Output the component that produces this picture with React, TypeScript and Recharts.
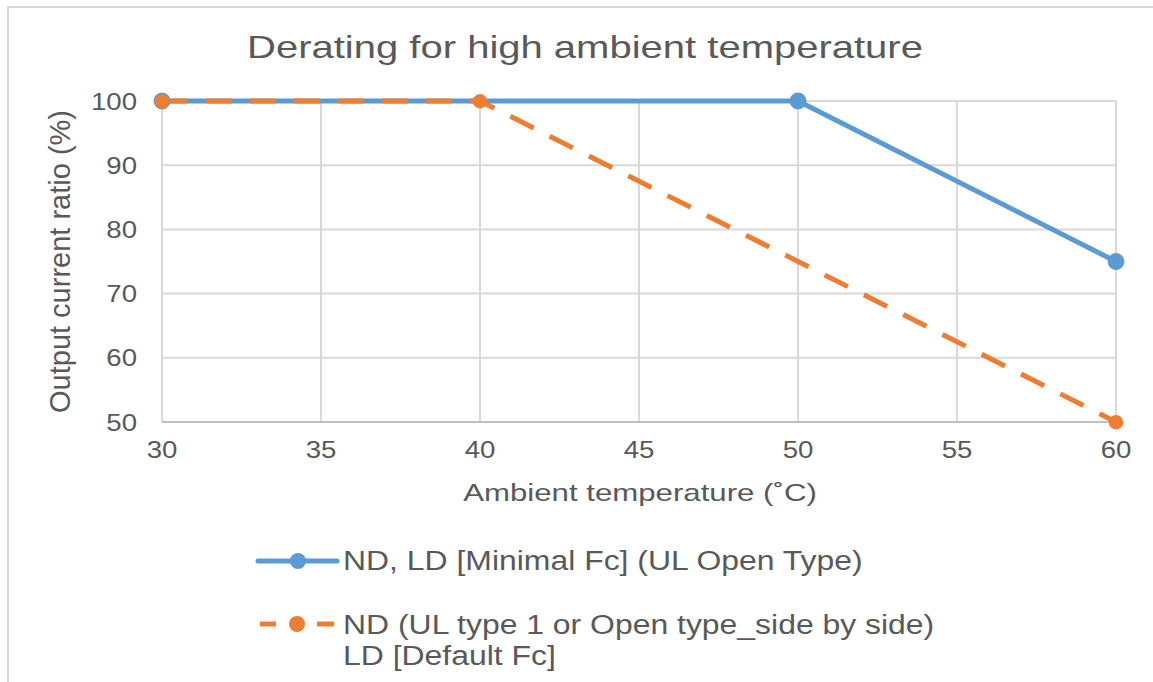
import React from 'react';
import { LineChart, Line, XAxis, YAxis, CartesianGrid, Legend } from 'recharts';

const temps = [30, 40, 50, 60];
const minimalFc = [100, null, 100, 75];
const defaultFc = [100, 100, null, 50];
const xTicks = [30, 35, 40, 45, 50, 55, 60];
const yTicks = [50, 60, 70, 80, 90, 100];

const chartTitle = 'Derating for high ambient temperature';
const xTitle = 'Ambient temperature (˚C)';
const yTitle = 'Output current ratio (%)';
const seriesNames = [
  ['ND, LD [Minimal Fc] (UL Open Type)'],
  ['ND (UL type 1 or Open type_side by side)', 'LD [Default Fc]'],
];

const data = temps.map((t, i) => ({ t, a: minimalFc[i], b: defaultFc[i] }));

const BLUE = '#5B9BD5';
const ORANGE = '#ED7D31';
const TEXT = '#595959';
const FONT = '"Liberation Sans", Arial, sans-serif';

// text drawn a bit wider than the font, as in the reference
const SText = ({ x, y, size, sx = 1, sy = 1, rotate = 0, anchor = 'start', children }: any) => (
  <text
    transform={`translate(${x},${y}) rotate(${rotate}) scale(${sx},${sy})`}
    textAnchor={anchor}
    fontSize={size}
    fontFamily={FONT}
    fill={TEXT}
  >
    {children}
  </text>
);

const XTick = ({ x, y, payload }: any) => (
  <SText x={x} y={y + 30} size={24} sx={1.15} anchor="middle">{payload.value}</SText>
);

const YTick = ({ x, y, payload }: any) => (
  <SText x={x - 19} y={y + 8.5} size={24} sx={1.15} anchor="end">{payload.value}</SText>
);

const XTitle = ({ viewBox }: any) => (
  <SText x={viewBox.x + viewBox.width / 2 + 1} y={viewBox.y + 79} size={24} sx={1.3} anchor="middle">{xTitle}</SText>
);

const YTitle = ({ viewBox }: any) => (
  <SText x={viewBox.x + 70} y={viewBox.y + viewBox.height / 2} size={25} sx={1.16} sy={1.2} rotate={-90} anchor="middle">{yTitle}</SText>
);

const LegendBox = () => (
  <svg width={760} height={152} style={{ overflow: 'visible' }}>
    <line x1={18} y1={31} x2={97} y2={31} stroke={BLUE} strokeWidth={5} strokeLinecap="round" />
    <circle cx={58} cy={31} r={8} fill={BLUE} />
    <SText x={103} y={40} size={28} sx={1.14}>{seriesNames[0][0]}</SText>
    <line x1={20} y1={94} x2={36} y2={94} stroke={ORANGE} strokeWidth={5} />
    <circle cx={57} cy={94} r={8} fill={ORANGE} />
    <line x1={77} y1={94} x2={94} y2={94} stroke={ORANGE} strokeWidth={5} />
    <SText x={103} y={104} size={28} sx={1.14}>{seriesNames[1][0]}</SText>
    <SText x={103} y={135} size={28} sx={1.14}>{seriesNames[1][1]}</SText>
  </svg>
);

export default function App() {
  return (
    <div style={{ position: 'fixed', left: 0, top: 0, width: 1153, height: 682, background: '#fff', overflow: 'hidden' }}>
      <div style={{ position: 'absolute', left: 7, top: 6, width: 1160, height: 700, borderLeft: '2px solid #D9D9D9', borderTop: '2px solid #D9D9D9' }} />
      <svg width={1153} height={90} style={{ position: 'absolute', left: 0, top: 0 }}>
        <SText x={585} y={58} size={32} sx={1.25} anchor="middle">{chartTitle}</SText>
      </svg>
      <LineChart
        width={1153}
        height={682}
        data={data}
        margin={{ top: 101, right: 37, left: 0, bottom: 50 }}
        style={{ position: 'absolute', left: 0, top: 0 }}
      >
        <CartesianGrid stroke="#D9D9D9" strokeWidth={2} />
        <XAxis
          dataKey="t"
          type="number"
          domain={[30, 60]}
          ticks={xTicks}
          height={80}
          axisLine={{ stroke: '#BFBFBF', strokeWidth: 2 }}
          tickLine={false}
          tickMargin={0}
          tick={<XTick />}
          label={{ content: <XTitle /> }}
        />
        <YAxis
          type="number"
          domain={[50, 100]}
          ticks={yTicks}
          width={162}
          axisLine={false}
          tickLine={false}
          tickMargin={0}
          tick={<YTick />}
          label={{ content: <YTitle /> }}
        />
        <Legend verticalAlign="bottom" content={<LegendBox />} wrapperStyle={{ top: 530, left: 240, width: 760, height: 130, overflow: 'visible' }} />
        <Line
          dataKey="a"
          name={seriesNames[0][0]}
          stroke={BLUE}
          strokeWidth={5}
          connectNulls
          dot={{ r: 8, fill: BLUE, stroke: BLUE, strokeWidth: 1 }}
          isAnimationActive={false}
        />
        <Line
          dataKey="b"
          name={seriesNames[1].join(' ')}
          stroke={ORANGE}
          strokeWidth={5}
          strokeDasharray="26 18"
          connectNulls
          dot={{ r: 7, fill: ORANGE, stroke: ORANGE, strokeWidth: 1 }}
          isAnimationActive={false}
        />
      </LineChart>
    </div>
  );
}
